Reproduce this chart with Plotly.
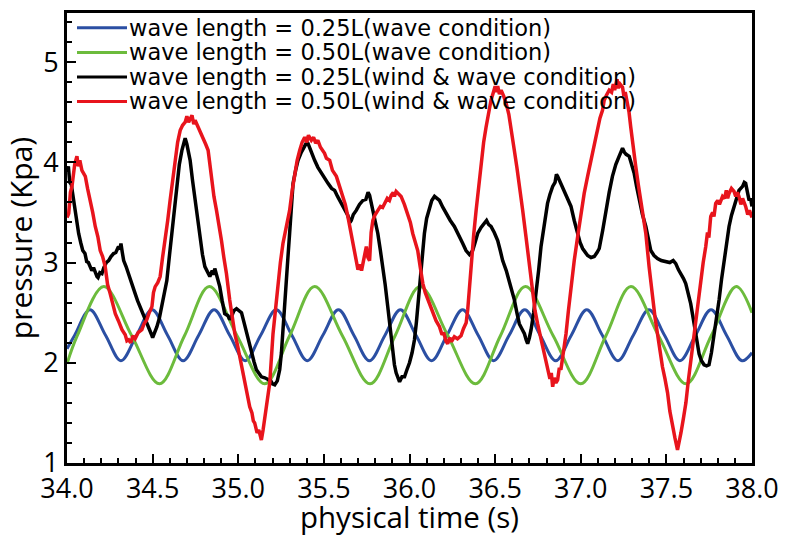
import plotly.graph_objects as go

# ---- series: wave condition (smooth, sinusoid-like records) ----
t_blue = [34.00, 34.045, 34.134, 34.225, 34.315, 34.406, 34.497, 34.587, 34.678, 34.769,
          34.859, 34.950, 35.041, 35.131, 35.222, 35.313, 35.403, 35.494, 35.585, 35.675,
          35.766, 35.857, 35.947, 36.038, 36.129, 36.219, 36.310, 36.401, 36.491, 36.582,
          36.673, 36.763, 36.854, 36.945, 37.035, 37.126, 37.217, 37.307, 37.398, 37.489,
          37.579, 37.670, 37.761, 37.851, 37.942, 38.00]
p_blue = [2.14, 2.275, 2.53, 2.275, 2.02, 2.275, 2.53, 2.275, 2.02, 2.275,
          2.53, 2.275, 2.02, 2.275, 2.53, 2.275, 2.02, 2.275, 2.53, 2.275,
          2.02, 2.275, 2.53, 2.275, 2.02, 2.275, 2.53, 2.275, 2.02, 2.275,
          2.53, 2.275, 2.02, 2.275, 2.53, 2.275, 2.02, 2.275, 2.53, 2.275,
          2.02, 2.275, 2.53, 2.275, 2.02, 2.10]

t_green = [34.00, 34.06, 34.215, 34.378, 34.54, 34.686, 34.831, 34.993, 35.155, 35.30,
           35.446, 35.608, 35.77, 35.916, 36.062, 36.224, 36.385, 36.531, 36.677, 36.839,
           37.00, 37.147, 37.293, 37.454, 37.615, 37.762, 37.908, 38.00]
p_green = [1.99, 2.27, 2.76, 2.27, 1.79, 2.27, 2.76, 2.27, 1.79, 2.27,
           2.76, 2.27, 1.79, 2.27, 2.76, 2.27, 1.79, 2.27, 2.76, 2.27,
           1.79, 2.27, 2.76, 2.27, 1.79, 2.27, 2.76, 2.50]

# ---- series: wind & wave condition (measured, noisy records) ----
black_pts = [
    (34.000, 3.90), (34.008, 3.96), (34.016, 3.80), (34.025, 3.78), (34.039, 3.62), (34.053, 3.45),
    (34.068, 3.29), (34.080, 3.20), (34.092, 3.12), (34.105, 3.09), (34.115, 3.01), (34.125, 3.00),
    (34.134, 2.96), (34.145, 2.92), (34.155, 2.95), (34.165, 2.89), (34.175, 2.86), (34.181, 2.85),
    (34.192, 2.90), (34.204, 2.89), (34.215, 2.95), (34.230, 3.00), (34.243, 3.02), (34.257, 3.06),
    (34.272, 3.09), (34.285, 3.10), (34.293, 3.14), (34.301, 3.16), (34.308, 3.13), (34.315, 3.19),
    (34.323, 3.10), (34.331, 3.02), (34.345, 2.96), (34.360, 2.89), (34.380, 2.79), (34.398, 2.69),
    (34.412, 2.62), (34.427, 2.56), (34.442, 2.49), (34.457, 2.43), (34.472, 2.38), (34.486, 2.33),
    (34.494, 2.28), (34.500, 2.25), (34.512, 2.30), (34.525, 2.36), (34.540, 2.45), (34.554, 2.56),
    (34.568, 2.68), (34.583, 2.82), (34.597, 3.05), (34.612, 3.29), (34.626, 3.55), (34.641, 3.79),
    (34.656, 3.98), (34.671, 4.12), (34.682, 4.20), (34.690, 4.24), (34.700, 4.18), (34.710, 4.10),
    (34.719, 4.02), (34.733, 3.82), (34.748, 3.62), (34.762, 3.42), (34.777, 3.22), (34.791, 3.08),
    (34.805, 2.96), (34.820, 2.90), (34.834, 2.86), (34.848, 2.92), (34.856, 2.88), (34.863, 2.94),
    (34.877, 2.85), (34.892, 2.76), (34.906, 2.62), (34.921, 2.49), (34.940, 2.47), (34.950, 2.43),
    (34.960, 2.46), (34.975, 2.52), (34.990, 2.54), (35.005, 2.52), (35.019, 2.50), (35.034, 2.40),
    (35.048, 2.30), (35.062, 2.20), (35.077, 2.10), (35.092, 2.01), (35.106, 1.93), (35.120, 1.90),
    (35.135, 1.86), (35.155, 1.85), (35.174, 1.83), (35.190, 1.82), (35.200, 1.79), (35.213, 1.78),
    (35.228, 1.82), (35.242, 1.93), (35.252, 2.10), (35.261, 2.30), (35.271, 2.55), (35.281, 2.79),
    (35.290, 3.05), (35.300, 3.29), (35.310, 3.55), (35.320, 3.79), (35.335, 3.92), (35.349, 4.02),
    (35.368, 4.10), (35.388, 4.16), (35.400, 4.20), (35.407, 4.19), (35.425, 4.10), (35.446, 4.02),
    (35.465, 3.95), (35.485, 3.89), (35.505, 3.83), (35.524, 3.79), (35.545, 3.74), (35.563, 3.72),
    (35.580, 3.66), (35.600, 3.60), (35.621, 3.52), (35.640, 3.47), (35.652, 3.40), (35.660, 3.42),
    (35.672, 3.48), (35.689, 3.52), (35.708, 3.58), (35.728, 3.62), (35.745, 3.63), (35.758, 3.70),
    (35.767, 3.67), (35.776, 3.60), (35.786, 3.52), (35.800, 3.42), (35.815, 3.29), (35.830, 3.12),
    (35.844, 2.96), (35.858, 2.78), (35.873, 2.56), (35.888, 2.32), (35.903, 2.10), (35.912, 1.98),
    (35.922, 1.90), (35.932, 1.84), (35.942, 1.81), (35.956, 1.86), (35.971, 1.86), (35.985, 1.93),
    (36.000, 2.00), (36.015, 2.10), (36.029, 2.23), (36.040, 2.40), (36.048, 2.56), (36.058, 2.76),
    (36.068, 2.96), (36.078, 3.14), (36.087, 3.29), (36.100, 3.44), (36.117, 3.56), (36.130, 3.62),
    (36.146, 3.66), (36.160, 3.64), (36.175, 3.62), (36.195, 3.55), (36.214, 3.49), (36.238, 3.42),
    (36.262, 3.36), (36.285, 3.27), (36.300, 3.22), (36.311, 3.19), (36.330, 3.12), (36.340, 3.10),
    (36.350, 3.08), (36.360, 3.10), (36.369, 3.12), (36.383, 3.20), (36.398, 3.29), (36.418, 3.35),
    (36.437, 3.39), (36.450, 3.42), (36.462, 3.38), (36.476, 3.36), (36.495, 3.30), (36.515, 3.22),
    (36.530, 3.12), (36.544, 3.02), (36.565, 2.92), (36.583, 2.82), (36.598, 2.72), (36.612, 2.63),
    (36.627, 2.50), (36.641, 2.39), (36.656, 2.34), (36.671, 2.29), (36.681, 2.23), (36.690, 2.19),
    (36.700, 2.25), (36.710, 2.33), (36.725, 2.50), (36.739, 2.69), (36.754, 2.92), (36.768, 3.16),
    (36.788, 3.40), (36.806, 3.59), (36.820, 3.68), (36.836, 3.76), (36.850, 3.80), (36.858, 3.88),
    (36.865, 3.86), (36.880, 3.80), (36.904, 3.72), (36.925, 3.64), (36.943, 3.56), (36.962, 3.42),
    (36.982, 3.29), (36.996, 3.20), (37.011, 3.14), (37.025, 3.10), (37.040, 3.07), (37.060, 3.05),
    (37.079, 3.06), (37.095, 3.10), (37.108, 3.14), (37.128, 3.32), (37.147, 3.52), (37.166, 3.70),
    (37.185, 3.86), (37.205, 3.98), (37.224, 4.06), (37.235, 4.10), (37.244, 4.14), (37.255, 4.10),
    (37.265, 4.08), (37.283, 4.06), (37.298, 3.98), (37.312, 3.89), (37.326, 3.76), (37.341, 3.62),
    (37.360, 3.48), (37.380, 3.36), (37.395, 3.22), (37.409, 3.12), (37.428, 3.07), (37.448, 3.04),
    (37.470, 3.02), (37.497, 3.01), (37.520, 3.00), (37.540, 3.02), (37.555, 2.99), (37.570, 2.93),
    (37.584, 2.89), (37.600, 2.84), (37.613, 2.79), (37.628, 2.70), (37.642, 2.59), (37.657, 2.44),
    (37.671, 2.29), (37.681, 2.18), (37.691, 2.09), (37.705, 2.02), (37.720, 1.98), (37.735, 1.97),
    (37.749, 1.98), (37.763, 2.10), (37.778, 2.26), (37.793, 2.45), (37.808, 2.63), (37.822, 2.83),
    (37.837, 3.02), (37.851, 3.20), (37.866, 3.36), (37.880, 3.47), (37.895, 3.56), (37.910, 3.65),
    (37.924, 3.72), (37.945, 3.76), (37.955, 3.80), (37.963, 3.79), (37.973, 3.70), (37.983, 3.62),
    (37.992, 3.64), (38.000, 3.56),
]

red_pts = [
    (34.000, 3.45), (34.010, 3.49), (34.020, 3.70), (34.029, 3.76), (34.045, 3.98), (34.058, 4.06),
    (34.066, 3.96), (34.075, 4.02), (34.087, 3.92), (34.107, 3.86), (34.120, 3.74), (34.136, 3.62),
    (34.150, 3.50), (34.165, 3.36), (34.180, 3.26), (34.194, 3.12), (34.208, 3.06), (34.223, 2.96),
    (34.237, 2.78), (34.252, 2.69), (34.266, 2.60), (34.282, 2.49), (34.300, 2.42), (34.321, 2.33),
    (34.340, 2.28), (34.350, 2.22), (34.360, 2.23), (34.372, 2.20), (34.385, 2.27), (34.398, 2.24),
    (34.415, 2.30), (34.437, 2.33), (34.450, 2.39), (34.466, 2.43), (34.480, 2.50), (34.496, 2.56),
    (34.505, 2.70), (34.515, 2.76), (34.530, 2.80), (34.544, 2.86), (34.558, 3.05), (34.573, 3.22),
    (34.588, 3.42), (34.602, 3.62), (34.617, 3.84), (34.631, 4.02), (34.646, 4.20), (34.661, 4.32),
    (34.675, 4.37), (34.690, 4.40), (34.700, 4.46), (34.710, 4.40), (34.719, 4.44), (34.730, 4.47),
    (34.740, 4.38), (34.748, 4.42), (34.766, 4.35), (34.780, 4.30), (34.795, 4.25), (34.810, 4.18),
    (34.824, 4.12), (34.834, 3.98), (34.844, 3.82), (34.858, 3.66), (34.873, 3.52), (34.888, 3.38),
    (34.902, 3.22), (34.916, 3.05), (34.931, 2.89), (34.950, 2.63), (34.965, 2.45), (34.980, 2.29),
    (34.995, 2.18), (35.009, 2.06), (35.023, 1.92), (35.038, 1.80), (35.052, 1.68), (35.067, 1.56),
    (35.080, 1.50), (35.088, 1.42), (35.096, 1.40), (35.110, 1.30), (35.120, 1.33), (35.135, 1.23),
    (35.145, 1.33), (35.155, 1.46), (35.170, 1.62), (35.184, 1.80), (35.203, 2.29), (35.218, 2.55),
    (35.232, 2.79), (35.246, 3.00), (35.261, 3.19), (35.280, 3.35), (35.300, 3.52), (35.315, 3.72),
    (35.329, 3.89), (35.344, 4.02), (35.359, 4.12), (35.373, 4.20), (35.388, 4.25), (35.400, 4.20),
    (35.410, 4.27), (35.427, 4.22), (35.440, 4.25), (35.452, 4.19), (35.465, 4.22), (35.480, 4.15),
    (35.504, 4.09), (35.515, 4.04), (35.534, 4.02), (35.550, 3.92), (35.573, 3.86), (35.590, 3.76),
    (35.611, 3.66), (35.625, 3.58), (35.640, 3.46), (35.655, 3.32), (35.669, 3.19), (35.684, 3.05),
    (35.699, 2.93), (35.712, 2.98), (35.720, 2.92), (35.728, 2.99), (35.738, 3.08), (35.748, 3.16),
    (35.757, 3.05), (35.767, 3.02), (35.776, 3.30), (35.786, 3.42), (35.800, 3.48), (35.815, 3.52),
    (35.830, 3.56), (35.843, 3.55), (35.854, 3.59), (35.870, 3.64), (35.883, 3.62), (35.893, 3.67),
    (35.905, 3.70), (35.912, 3.66), (35.922, 3.71), (35.935, 3.69), (35.951, 3.66), (35.970, 3.58),
    (35.990, 3.49), (36.005, 3.40), (36.019, 3.29), (36.034, 3.20), (36.048, 3.12), (36.063, 2.95),
    (36.078, 2.79), (36.092, 2.70), (36.107, 2.63), (36.122, 2.55), (36.136, 2.49), (36.155, 2.42),
    (36.175, 2.36), (36.190, 2.28), (36.200, 2.30), (36.212, 2.22), (36.223, 2.19), (36.235, 2.25),
    (36.245, 2.21), (36.262, 2.26), (36.280, 2.24), (36.301, 2.27), (36.315, 2.34), (36.331, 2.40),
    (36.340, 2.53), (36.350, 2.78), (36.360, 3.02), (36.375, 3.28), (36.389, 3.52), (36.404, 3.78),
    (36.418, 4.02), (36.433, 4.20), (36.447, 4.35), (36.462, 4.50), (36.476, 4.62), (36.490, 4.70),
    (36.500, 4.76), (36.506, 4.70), (36.515, 4.76), (36.525, 4.68), (36.535, 4.72), (36.550, 4.66),
    (36.564, 4.59), (36.580, 4.48), (36.593, 4.35), (36.612, 4.12), (36.627, 3.95), (36.641, 3.79),
    (36.661, 3.52), (36.680, 3.26), (36.700, 2.96), (36.719, 2.69), (36.733, 2.52), (36.748, 2.39),
    (36.762, 2.28), (36.777, 2.19), (36.792, 2.06), (36.806, 1.96), (36.820, 1.84), (36.828, 1.90),
    (36.836, 1.76), (36.845, 1.85), (36.855, 1.80), (36.865, 1.83), (36.875, 1.95), (36.884, 1.93),
    (36.900, 2.10), (36.914, 2.29), (36.928, 2.52), (36.943, 2.76), (36.962, 3.02), (36.982, 3.26),
    (37.000, 3.48), (37.020, 3.69), (37.040, 3.86), (37.059, 4.02), (37.078, 4.18), (37.098, 4.35),
    (37.112, 4.44), (37.127, 4.52), (37.137, 4.62), (37.150, 4.67), (37.166, 4.72), (37.180, 4.70),
    (37.190, 4.78), (37.198, 4.72), (37.204, 4.79), (37.212, 4.83), (37.220, 4.74), (37.230, 4.78),
    (37.244, 4.75), (37.252, 4.66), (37.260, 4.70), (37.273, 4.59), (37.282, 4.50), (37.292, 4.35),
    (37.305, 4.15), (37.321, 3.96), (37.336, 3.78), (37.351, 3.62), (37.365, 3.45), (37.380, 3.29),
    (37.399, 2.96), (37.419, 2.63), (37.434, 2.45), (37.448, 2.29), (37.462, 2.12), (37.477, 1.96),
    (37.492, 1.84), (37.507, 1.70), (37.520, 1.52), (37.536, 1.36), (37.550, 1.25), (37.565, 1.13),
    (37.575, 1.20), (37.585, 1.30), (37.600, 1.45), (37.614, 1.60), (37.628, 1.82), (37.643, 2.03),
    (37.657, 2.24), (37.672, 2.43), (37.686, 2.63), (37.701, 2.83), (37.715, 3.00), (37.730, 3.16),
    (37.740, 3.30), (37.748, 3.25), (37.759, 3.46), (37.770, 3.50), (37.778, 3.46), (37.788, 3.59),
    (37.800, 3.62), (37.810, 3.58), (37.828, 3.66), (37.840, 3.64), (37.850, 3.72), (37.858, 3.64),
    (37.866, 3.69), (37.880, 3.74), (37.895, 3.71), (37.905, 3.66), (37.915, 3.70), (37.924, 3.66),
    (37.935, 3.58), (37.945, 3.64), (37.963, 3.56), (37.975, 3.48), (37.985, 3.52), (38.000, 3.45),
]
t_black = [t for t, _ in black_pts]
p_black = [p for _, p in black_pts]
t_red = [t for t, _ in red_pts]
p_red = [p for _, p in red_pts]

series = [
    ("wave length = 0.25L(wave condition)", t_blue, p_blue, "#2b4fa3", "spline", 3),
    ("wave length = 0.50L(wave condition)", t_green, p_green, "#6cbb3c", "spline", 3),
    ("wave length = 0.25L(wind & wave condition)", t_black, p_black, "#000000", "linear", 3.5),
    ("wave length = 0.50L(wind & wave condition)", t_red, p_red, "#e8141c", "linear", 3.5),
]

FONT = "Open Sans"
LEGEND_FONT = "DejaVu Sans"

fig = go.Figure()
for name, t, p, color, shape, lw in series:
    fig.add_trace(go.Scatter(x=t, y=p, mode="lines", name=name, showlegend=False,
                             line=dict(color=color, width=lw, shape=shape)))

# legend block drawn in the upper-left corner of the plot
legend_top = 0.967
row_step = 0.0545
for i, (name, _, _, color, _, _) in enumerate(series):
    yy = legend_top - i * row_step
    fig.add_shape(type="line", xref="paper", yref="paper", x0=0.0146, x1=0.0876,
                  y0=yy, y1=yy, line=dict(color=color, width=3))
    fig.add_annotation(xref="paper", yref="paper", x=0.088, y=yy, text=name,
                       showarrow=False, xanchor="left", yanchor="middle",
                       font=dict(family=LEGEND_FONT, size=22.5, color="black"))

axis_common = dict(showline=True, linecolor="black", linewidth=3, mirror=True,
                   showgrid=False, zeroline=False, ticks="inside", tickcolor="black",
                   tickwidth=2, ticklen=9, automargin=False,
                   tickfont=dict(family=FONT, size=27, color="black"))

fig.update_xaxes(range=[34, 38], dtick=0.5, tick0=34, tickformat=".1f",
                 minor=dict(dtick=0.1, ticks="inside", ticklen=5, tickwidth=2, tickcolor="black"),
                 title=dict(text="physical time (s)", font=dict(family=FONT, size=29.5, color="black"),
                            standoff=4),
                 **axis_common)
fig.update_yaxes(range=[1, 5.49], dtick=1, tick0=1,
                 minor=dict(dtick=0.2, ticks="inside", ticklen=5, tickwidth=2, tickcolor="black"),
                 title=dict(text="pressure (Kpa)", font=dict(family=FONT, size=30, color="black"),
                            standoff=7),
                 **axis_common)

fig.update_layout(width=785, height=537, margin=dict(l=67, r=33, t=13, b=74),
                  plot_bgcolor="white", paper_bgcolor="white")

fig.write_html("out.html")
